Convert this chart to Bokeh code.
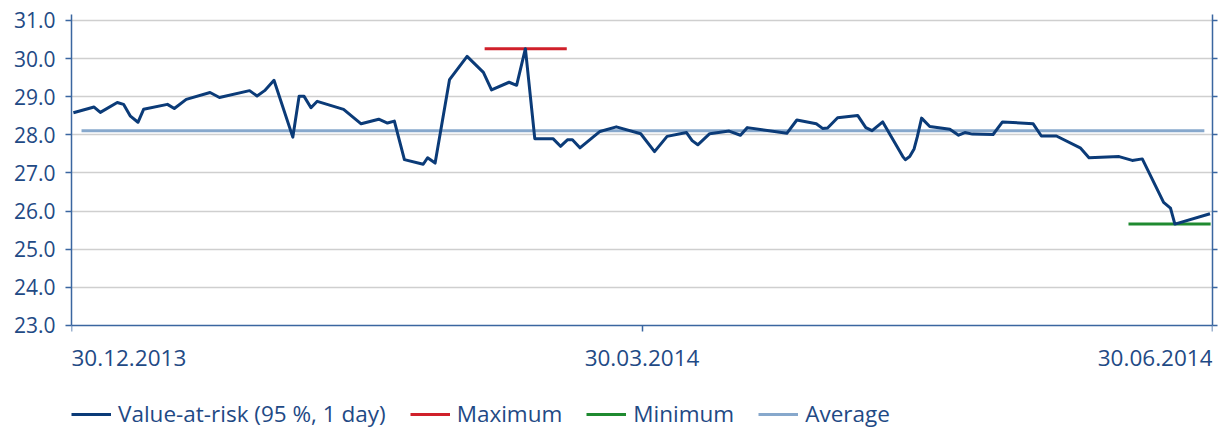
from bokeh.plotting import figure
from bokeh.models import (Range1d, LinearAxis, FixedTicker, CustomJSTickFormatter,
                          Label, Legend, LegendItem)
from bokeh.embed import file_html
from bokeh.resources import INLINE

# ---- data (x = calendar days after 30.12.2013) ----
days = [0.3, 3.6, 4.6, 7.3, 8.3, 9.4, 10.6, 11.5, 15.3, 16.4, 18.3, 22.1, 23.6, 28.4, 29.6, 30.8, 32.3,
        35.3, 36.3, 37.1, 38.2, 39.2, 43.4, 46.2, 49.0, 50.4, 51.5,
        53.1, 56.1, 56.8, 58.0, 60.3, 63.1, 65.7, 67.0, 69.8, 71.0,
        72.4, 73.9, 76.8, 78.0, 79.1, 79.9, 81.1, 84.3, 86.9, 90.8,
        93.0, 95.0, 98.1, 99.0, 99.9, 101.8, 104.9, 106.7, 107.8, 114.1,
        115.7, 118.8, 119.8, 120.6, 122.2, 125.4, 126.7, 127.7, 129.4,
        132.6, 133.0, 133.7, 134.4, 134.9, 135.6,
        136.9, 140.1, 141.5, 142.5, 143.7, 147.0, 148.5, 153.4, 154.7, 157.1,
        160.9, 162.3, 167.1, 169.2, 170.8, 174.2, 175.3, 176.0, 181.6]
var_values = [28.58, 28.73, 28.59, 28.85, 28.80, 28.49, 28.33, 28.67, 28.80, 28.69, 28.93, 29.11, 28.98, 29.16, 29.02, 29.16, 29.43,
              27.94, 29.01, 29.01, 28.71, 28.88, 28.67, 28.29, 28.41, 28.31, 28.36,
              27.35, 27.23, 27.40, 27.26, 29.45, 30.06, 29.64, 29.18, 29.38, 29.30,
              30.26, 27.90, 27.90, 27.70, 27.87, 27.87, 27.66, 28.09, 28.21, 28.03,
              27.56, 27.96, 28.06, 27.85, 27.74, 28.03, 28.10, 27.99, 28.19, 28.04,
              28.39, 28.29, 28.17, 28.18, 28.45, 28.51, 28.19, 28.11, 28.34,
              27.43, 27.35, 27.43, 27.63, 27.94, 28.44,
              28.22, 28.15, 27.99, 28.06, 28.02, 28.01, 28.34, 28.29, 27.97, 27.97,
              27.66, 27.40, 27.43, 27.33, 27.37, 26.23, 26.08, 25.66, 25.93]

maximum_value = 30.26
minimum_value = 25.66
average_value = 28.11
maximum_days = [65.9, 79.0]
minimum_days = [168.6, 181.7]
average_days = [1.6, 180.7]

tick_days = [0, 91, 182]
tick_labels = ["30.12.2013", "30.03.2014", "30.06.2014"]
y_ticks = [23, 24, 25, 26, 27, 28, 29, 30, 31]

# ---- styles ----
FONT = "Open Sans"
TEXT = "#1f4a85"
AXIS = "#3a66a0"
NAVY = "#0b3b78"
RED = "#d0202a"
GREEN = "#1f8a30"
LIGHT = "#87a8cc"

Y_TOP = 31.157
Y_AXIS = 23
Y_FRAME_BOTTOM = 20.272   # frame extends below the axis to hold labels & legend

p = figure(width=1218, height=429, output_backend="svg", toolbar_location=None,
           x_range=Range1d(0, 182), y_range=Range1d(Y_FRAME_BOTTOM, Y_TOP),
           min_border_left=71, min_border_right=6, min_border_top=14, min_border_bottom=0,
           x_axis_location=None, y_axis_location=None)
p.outline_line_color = None
p.background_fill_color = "white"
p.border_fill_color = "white"

# axes
ly = LinearAxis(ticker=FixedTicker(ticks=y_ticks), bounds=(Y_AXIS, Y_TOP))
ly.formatter = CustomJSTickFormatter(code="return tick.toFixed(1);")
ly.axis_line_color = AXIS
ly.axis_line_width = 1.5
ly.major_tick_line_color = AXIS
ly.major_tick_line_width = 1.5
ly.major_tick_out = 6
ly.major_tick_in = 0
ly.minor_tick_line_color = None
ly.major_label_standoff = 10
ly.major_label_text_font = FONT
ly.major_label_text_font_size = "21px"
ly.major_label_text_color = TEXT
p.add_layout(ly, "left")

ry = LinearAxis(ticker=FixedTicker(ticks=y_ticks), bounds=(Y_AXIS, Y_TOP))
ry.formatter = CustomJSTickFormatter(code="return '';")
ry.axis_line_color = AXIS
ry.axis_line_width = 1.5
ry.major_tick_line_color = AXIS
ry.major_tick_line_width = 1.5
ry.major_tick_out = 5
ry.major_tick_in = 0
ry.minor_tick_line_color = None
ry.major_label_standoff = 0
p.add_layout(ry, "right")

bx = LinearAxis(ticker=FixedTicker(ticks=tick_days), fixed_location=Y_AXIS)
bx.formatter = CustomJSTickFormatter(code="return '';")
bx.axis_line_color = AXIS
bx.axis_line_width = 1.5
bx.major_tick_line_color = AXIS
bx.major_tick_line_width = 1.5
bx.major_tick_out = 6
bx.major_tick_in = 0
bx.minor_tick_line_color = None
bx.major_label_standoff = 0
p.add_layout(bx, "below")

p.xgrid.visible = False
p.ygrid.ticker = FixedTicker(ticks=y_ticks[1:])
p.ygrid.grid_line_color = "#cfcfcf"
p.ygrid.grid_line_width = 1.5

# x tick labels (left, centred, right aligned like the original)
aligns = ["left", "center", "right"]
for d, t, a in zip(tick_days, tick_labels, aligns):
    p.add_layout(Label(x=d, y=22.16, text=t, text_align=a, text_baseline="middle",
                       text_font=FONT, text_font_size="22.5px", text_color=TEXT))

# series
r_avg = p.line(average_days, [average_value] * 2, line_color=LIGHT, line_width=3)
r_max = p.line(maximum_days, [maximum_value] * 2, line_color=RED, line_width=3)
r_min = p.line(minimum_days, [minimum_value] * 2, line_color=GREEN, line_width=3)
r_var = p.line(days, var_values, line_color=NAVY, line_width=3, line_join="round")

legend = Legend(items=[
    LegendItem(label="Value-at-risk (95 %, 1 day)", renderers=[r_var]),
    LegendItem(label="Maximum", renderers=[r_max]),
    LegendItem(label="Minimum", renderers=[r_min]),
    LegendItem(label="Average", renderers=[r_avg]),
], orientation="horizontal", location=(0, 0))
legend.label_text_font = FONT
legend.label_text_font_size = "22.5px"
legend.label_text_color = TEXT
legend.glyph_width = 40
legend.glyph_height = 14
legend.label_height = 14
legend.label_standoff = 7
legend.spacing = 24
legend.padding = 0
legend.margin = 0
legend.border_line_color = None
legend.background_fill_alpha = 0
p.add_layout(legend, "center")

open("out.html", "w").write(file_html(p, INLINE))
